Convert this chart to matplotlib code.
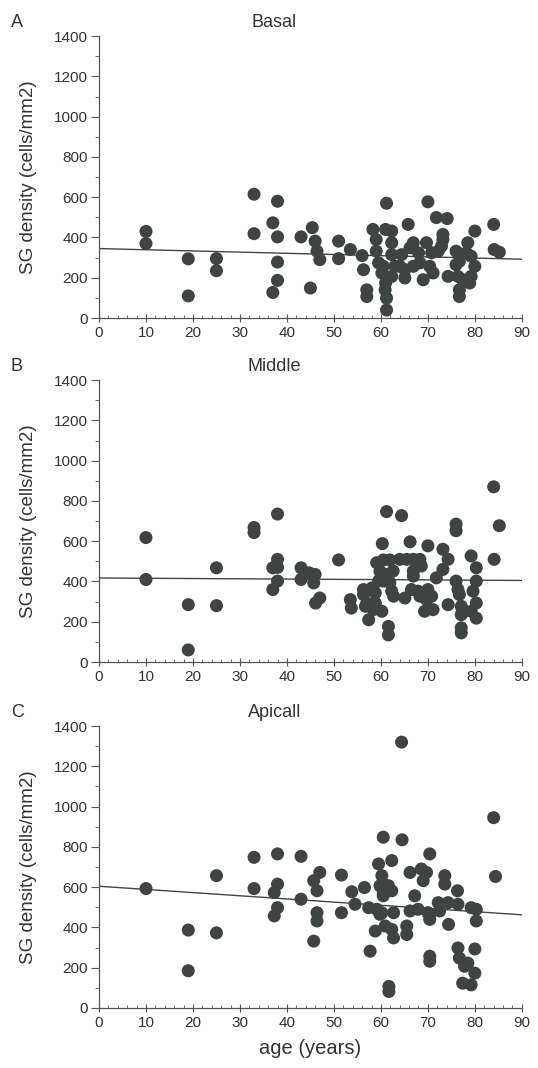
import matplotlib
matplotlib.use('Agg')
import matplotlib.pyplot as plt
from matplotlib.ticker import MultipleLocator
import numpy as np

plt.rcParams['font.family'] = ['Liberation Sans', 'DejaVu Sans']

# 数据：年龄 (years) 与 SG density (cells/mm2)
basal_age = [10, 10, 19, 19, 25, 25, 33, 33, 37, 38, 38, 38, 38, 37, 43,
             45.4, 46, 46.4, 47, 45, 51, 51, 53.5, 56, 56.3, 57, 57,
             58.3, 59, 59, 59.5, 60.2, 61, 61, 61.2, 61.2, 61.2,
             62.3, 62.3, 62.3, 62.3, 63, 64.4, 65.8, 66.9, 66.2, 65.1, 65.1,
             68, 68.3, 69, 70, 69.7, 70.8, 70.4, 71.1,
             71.8, 74.1, 73.2, 72.9, 72.2, 74.3,
             76, 76.4, 76.7, 76.7, 76.7, 78.5, 80, 80, 79.2, 79.2, 78.9,
             84, 84.1, 85.2, 73.2, 78.2, 60.5, 64, 66.9, 76, 77.4, 60.9]
basal_sg = [430, 370, 294, 110, 295, 235, 615, 419, 473, 580, 403, 278, 187, 127, 403,
            449, 382, 332, 290, 149, 382, 295, 340, 310, 240, 140, 107,
            440, 390, 332, 274, 224, 174, 440, 570, 99, 40,
            432, 374, 315, 207, 257, 315, 465, 374, 349, 240, 199,
            324, 274, 190, 577, 374, 324, 257, 224,
            499, 494, 415, 357, 332, 207,
            332, 207, 282, 140, 107, 374, 432, 257, 307, 207, 174,
            465, 340, 327, 390, 324, 257, 257, 257, 265, 190, 140]

middle_age = [10, 10, 19, 19, 25, 25, 33, 33, 38, 38, 38, 38, 37, 37, 43, 43,
              44.7, 46, 45.7, 47, 46.1, 51, 53.5, 53.7, 56.3, 57, 57.4,
              59.1, 60.3, 61.2, 64.4, 61.6, 61.6, 60.2, 66.2,
              60.5, 61.9, 64, 65.5, 66.9, 68.3,
              66.9, 65.1, 66.5, 68.3, 70, 68.6, 70, 70.8, 69.3, 71.1,
              73.2, 74.3, 73.2, 71.8, 74.3,
              76, 76, 76, 76.4, 77.1, 77.1, 77.1, 77.1,
              79.2, 80.3, 80.3, 80.3, 80.3, 79.6, 79.2,
              85.2, 84.1, 84,
              59.8, 61.2, 62.6, 66.9, 59.5, 60.5, 61.9,
              56.3, 58.1, 58.8, 62.3, 62.7, 67.9, 76.7,
              58.8, 69.7, 56.7, 58.4, 77.8]
middle_sg = [618, 410, 285, 60, 468, 280, 668, 643, 735, 510, 470, 402, 468, 360, 468, 410,
             443, 435, 393, 318, 293, 507, 310, 268, 335, 293, 210,
             493, 588, 747, 727, 177, 135, 252, 597,
             507, 507, 510, 510, 510, 510,
             427, 318, 360, 327, 577, 477, 360, 327, 252, 260,
             560, 510, 460, 418, 285,
             685, 652, 402, 360, 277, 235, 170, 145,
             527, 468, 402, 293, 218, 352, 252,
             677, 510, 870,
             450, 435, 452, 452, 402, 402, 395,
             360, 368, 343, 352, 327, 352, 335,
             293, 310, 277, 260, 252]

apical_age = [10, 19, 19, 25, 25, 33, 33, 38, 38, 38, 37.3, 37.3, 43, 43,
              64.4, 84, 84.4, 60.5, 64.5, 70.4,
              47, 45.7, 46.4, 51.6, 53.8, 56.5,
              59.5, 62.3, 60.2, 59.8, 61.6, 62.3, 60.5,
              66.2, 68.6, 69, 69.7, 67.2, 73.6, 73.6, 76.3,
              46.4, 46.4, 51.6, 57.4, 59.1, 60.2, 62.7,
              58.8, 60.9, 62.3, 62.7, 65.5, 65.5,
              66.2, 67.9, 70, 70.4, 72.2, 72.5, 74.3, 76.4, 79.2, 80.3, 80.3,
              74.4, 45.7, 57.7, 70.4, 70.4,
              76.4, 80, 76.7, 78.5, 80, 77.4, 79.2, 77.8,
              61.7, 61.7, 60.5, 59.8, 54.5, 70.4, 60.5]
apical_sg = [593, 387, 185, 657, 373, 748, 593, 765, 615, 498, 573, 457, 753, 540,
             1320, 945, 653, 848, 835, 765,
             673, 632, 582, 660, 577, 598,
             715, 732, 657, 607, 607, 582, 557,
             673, 690, 632, 673, 557, 657, 615, 582,
             473, 432, 473, 498, 490, 473, 473,
             382, 407, 390, 348, 407, 365,
             482, 490, 473, 440, 523, 482, 523, 515, 498, 490, 432,
             415, 332, 282, 257, 232,
             298, 293, 248, 223, 173, 123, 115, 207,
             107, 82, 615, 465, 515, 465, 573]

panel_letters = ['A', 'B', 'C']
panel_titles = ['Basal', 'Middle', 'Apicall']
panel_data = [(basal_age, basal_sg), (middle_age, middle_sg), (apical_age, apical_sg)]

dot_color = '#3f4341'
text_color = '#333333'
axis_color = '#555555'

fig = plt.figure(figsize=(5.38, 10.68), dpi=100)

bottoms = [0.7022, 0.3801, 0.0562]
head_y = [0.9794, 0.6573, 0.3333]   # 字母与标题的位置

for i in range(3):
    ages, sg = panel_data[i]
    ax = fig.add_axes([0.184, bottoms[i], 0.786, 0.264])
    ax.scatter(ages, sg, s=88, color=dot_color, edgecolors='none', zorder=3)

    # 线性回归线
    k, b = np.polyfit(ages, sg, 1)
    xx = np.array([0, 90])
    ax.plot(xx, k * xx + b, color='#444444', lw=1.0, zorder=2)

    ax.set_xlim(0, 90)
    ax.set_ylim(0, 1400)
    ax.xaxis.set_major_locator(MultipleLocator(10))
    ax.xaxis.set_minor_locator(MultipleLocator(2))
    ax.yaxis.set_major_locator(MultipleLocator(200))
    ax.yaxis.set_minor_locator(MultipleLocator(100))
    ax.tick_params(axis='y', which='major', direction='out', length=5.5, width=0.8,
                   color=axis_color, labelsize=11, labelcolor=text_color, pad=2.5)
    ax.tick_params(axis='y', which='minor', direction='out', length=3, width=0.6,
                   color=axis_color)
    ax.tick_params(axis='x', which='major', direction='inout', length=6, width=0.8,
                   color=axis_color, labelsize=11, labelcolor=text_color, pad=3)
    ax.tick_params(axis='x', which='minor', direction='in', length=2.5, width=0.6,
                   color=axis_color)
    ax.spines['top'].set_visible(False)
    ax.spines['right'].set_visible(False)
    for s in ['left', 'bottom']:
        ax.spines[s].set_color(axis_color)
        ax.spines[s].set_linewidth(0.9)
    ax.set_ylabel('SG density (cells/mm2)', fontsize=13.5, color=text_color)
    ax.yaxis.set_label_coords(-0.147, 0.5)
    if i == 2:
        ax.set_xlabel('age (years)', fontsize=14.5, color=text_color, labelpad=6)

    fig.text(0.02, head_y[i], panel_letters[i], fontsize=13, color=text_color,
             ha='left', va='center')
    fig.text(0.51, head_y[i], panel_titles[i], fontsize=13, color=text_color,
             ha='center', va='center')

plt.savefig('out.png', dpi=100, facecolor='white')
plt.close()
